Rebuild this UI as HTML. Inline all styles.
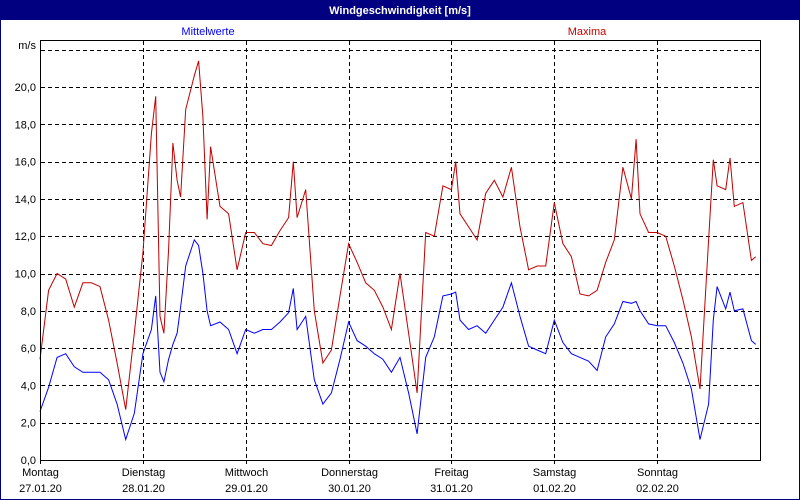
<!DOCTYPE html>
<html><head><meta charset="utf-8"><style>
body{margin:0;background:#fff;}
svg{display:block;font-family:"Liberation Sans",sans-serif;font-size:11px;}
</style></head><body>
<svg id="chart" width="800" height="500">
<rect x="0" y="0" width="800" height="500" fill="#fff"/>
<rect x="0.5" y="0.5" width="799" height="499" fill="none" stroke="#000080"/>
<rect x="0" y="0" width="800" height="20" fill="#000080"/>
<text x="400" y="14" fill="#fff" font-weight="bold" text-anchor="middle">Windgeschwindigkeit [m/s]</text>
<text x="208" y="35" fill="#0000ff" text-anchor="middle">Mittelwerte</text>
<text x="587" y="35" fill="#c00000" text-anchor="middle">Maxima</text>
<text x="36" y="49" text-anchor="end">m/s</text>
<g id="grid"></g>
<g id="series"></g>
<rect x="40.5" y="40.5" width="720" height="420" fill="none" stroke="#000"/>
<g id="labels"></g>
</svg>
<script>
const times=[0,2,4,6,8,10,12,14,16,18,20,22,24,26,27,28,28.9,30,31,32,32.8,34,36,37,38,39,39.8,42,44,46,48,50,52,54,56,58,59.1,60,62,64,66,68,70,72,74,76,78,80,82,84,86,88,90,92,94,96,97,98,100,102,104,106,108,110,112,114,116,118,120,122,124,126,128,130,132,134,136,138,139.1,140,142,144,146,148,150,152,154,156,157.1,158,160,161,162,164,166,167];
const maxima=[5.4,9.1,10.0,9.7,8.2,9.5,9.5,9.3,7.5,5.2,2.7,6.8,11.1,17.5,19.5,7.7,6.8,11.3,17.0,15.0,14.1,18.8,20.6,21.4,18.4,12.9,16.8,13.6,13.2,10.2,12.2,12.2,11.6,11.5,12.3,13.0,16.0,13.0,14.5,8.0,5.2,5.9,8.8,11.6,10.6,9.5,9.1,8.2,7.0,10.0,6.8,3.6,12.2,12.0,14.7,14.5,16.0,13.2,12.5,11.8,14.3,15.0,14.1,15.7,12.5,10.2,10.4,10.4,13.8,11.6,10.9,8.9,8.8,9.1,10.6,11.8,15.7,14.0,17.2,13.2,12.2,12.2,12.0,10.4,8.6,6.6,3.8,11.8,16.1,14.7,14.5,16.2,13.6,13.8,10.7,10.9];
const means=[2.6,3.9,5.5,5.7,5.0,4.7,4.7,4.7,4.3,3.0,1.1,2.5,5.7,7.0,8.8,4.7,4.2,5.4,6.2,6.8,8.2,10.4,11.8,11.5,10.0,8.0,7.2,7.4,7.0,5.7,7.0,6.8,7.0,7.0,7.4,7.9,9.2,7.0,7.7,4.3,3.0,3.6,5.4,7.4,6.4,6.1,5.7,5.4,4.7,5.5,3.6,1.4,5.5,6.6,8.8,8.9,9.0,7.5,7.0,7.2,6.8,7.5,8.2,9.5,7.7,6.1,5.9,5.7,7.5,6.3,5.7,5.5,5.3,4.8,6.6,7.3,8.5,8.4,8.5,8.0,7.3,7.2,7.2,6.3,5.2,3.8,1.1,3.0,7.5,9.3,8.1,9.0,8.0,8.1,6.4,6.2];
const yTicks=[0,2,4,6,8,10,12,14,16,18,20];
const dayNames=["Montag","Dienstag","Mittwoch","Donnerstag","Freitag","Samstag","Sonntag"];
const dayDates=["27.01.20","28.01.20","29.01.20","30.01.20","31.01.20","01.02.20","02.02.20"];
const NS="http://www.w3.org/2000/svg";
const x=t=>40+t*720/168;
const y=v=>460-v*18.65;
const grid=document.getElementById('grid'),labels=document.getElementById('labels'),series=document.getElementById('series');
function mk(tag,attrs,parent){const e=document.createElementNS(NS,tag);for(const k in attrs)e.setAttribute(k,attrs[k]);parent.appendChild(e);return e;}
[...yTicks.slice(1),22].forEach(v=>{
  const l=mk('line',{x1:41,x2:760,y1:Math.round(y(v))+0.5,y2:Math.round(y(v))+0.5,stroke:'#000','stroke-dasharray':'4,3'},grid);
  
  
});
yTicks.forEach(v=>{
  const t=mk('text',{x:36,y:y(v)+4,'text-anchor':'end'},labels);
  t.textContent=v.toFixed(1).replace('.',',');
  
  
});
dayNames.forEach((d,i)=>{
  const xx=Math.round(x(i*24))+0.5;
  if(i>0){
    const l=mk('line',{x1:xx,x2:xx,y1:41,y2:460,stroke:'#000','stroke-dasharray':'4,3'},grid);
    
    
  }
  const tk=mk('line',{x1:xx,x2:xx,y1:460,y2:464,stroke:'#000'},labels);
  
  
  const a=mk('text',{x:xx,y:476,'text-anchor':'middle'},labels);a.textContent=d;
  
  
  const b=mk('text',{x:xx,y:492,'text-anchor':'middle'},labels);b.textContent=dayDates[i];
  
  
});
function line(vals,color,name){
  const p=mk('polyline',{points:vals.map((v,i)=>x(times[i]).toFixed(1)+','+y(v).toFixed(1)).join(' '),fill:'none',stroke:color,'stroke-width':1},series);
  
  
}
line(maxima,'#c00000','maxima-line');
line(means,'#0000ff','mittelwerte-line');
</script>
</body></html>
